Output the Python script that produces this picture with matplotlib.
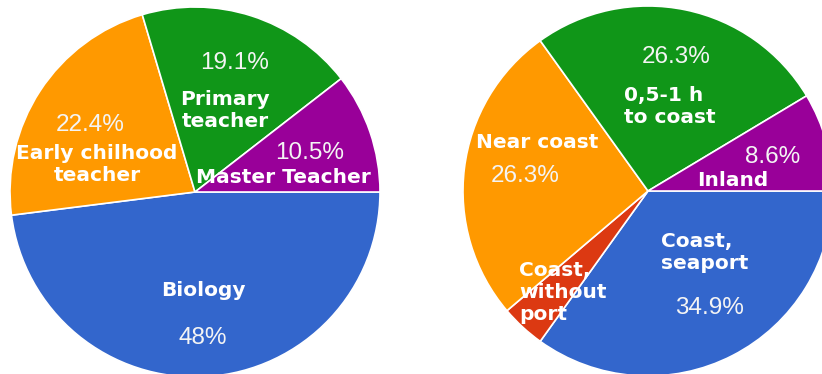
import numpy as np
import matplotlib
matplotlib.use("Agg")
import matplotlib.pyplot as plt

# left pie: subject / teacher type
subj_names = ["Biology", "Early chilhood\nteacher", "Primary\nteacher", "Master Teacher"]
subj_share = [48.0, 22.4, 19.1, 10.5]
subj_pct = ["48%", "22.4%", "19.1%", "10.5%"]

# right pie: school location
loc_names = ["Coast,\nseaport", "Coast,\nwithout\nport", "Near coast", "0,5-1 h\nto coast", "Inland"]
loc_share = [34.9, 3.9, 26.3, 26.3, 8.6]
loc_pct = ["34.9%", None, "26.3%", "26.3%", "8.6%"]

blue, orange, green, purple, red = "#3366cc", "#ff9900", "#109618", "#990099", "#dc3912"
subj_colors = [blue, orange, green, purple]
loc_colors = [blue, red, orange, green, purple]

W, H = 822, 374
R = 185
c_left = (195, 182)
c_right = (648, 183)

fig = plt.figure(figsize=(W / 100, H / 100), dpi=100)
ax = fig.add_axes([0, 0, 1, 1])

for share, cols, c in [(subj_share, subj_colors, c_left), (loc_share, loc_colors, c_right)]:
    ax.pie(share, colors=cols, startangle=0, counterclock=False, radius=R, center=c,
           wedgeprops=dict(edgecolor="white", linewidth=1.2))

ax.set_xlim(0, W)
ax.set_ylim(0, H)
ax.set_aspect("equal")
ax.axis("off")

bold = dict(color="white", fontsize=14.5, fontweight="bold", family="DejaVu Sans", va="center")
pct = dict(color="#f4f4f4", fontsize=17.5, family="Liberation Sans", va="center", ha="center")

# label offsets from the pie centre (pixels, y up)
subj_name_pos = [(8, -98), (-98, 27.5), (30, 81.5), (88, 15)]
subj_pct_pos = [(8, -146), (-105, 67), (40, 129), (115, 39)]
for name, p, (nx, ny), (px, py) in zip(subj_names, subj_pct, subj_name_pos, subj_pct_pos):
    ax.text(c_left[0] + nx, c_left[1] + ny, name, ha="center", ma="center", **bold)
    ax.text(c_left[0] + px, c_left[1] + py, p, **pct)

loc_name_pos = [(13, -61.5, "left"), (-129, -101.5, "left"), (-111, 49, "center"),
                (-24, 85, "left"), (85, 11, "center")]
loc_pct_pos = [(61, -117), None, (-123, 15), (28, 134), (125, 34)]
for name, p, (nx, ny, al), pp in zip(loc_names, loc_pct, loc_name_pos, loc_pct_pos):
    ax.text(c_right[0] + nx, c_right[1] + ny, name, ha=al, ma=al, **bold)
    if p is not None:
        ax.text(c_right[0] + pp[0], c_right[1] + pp[1], p, **pct)

fig.savefig("out.png", dpi=100, facecolor="white")
